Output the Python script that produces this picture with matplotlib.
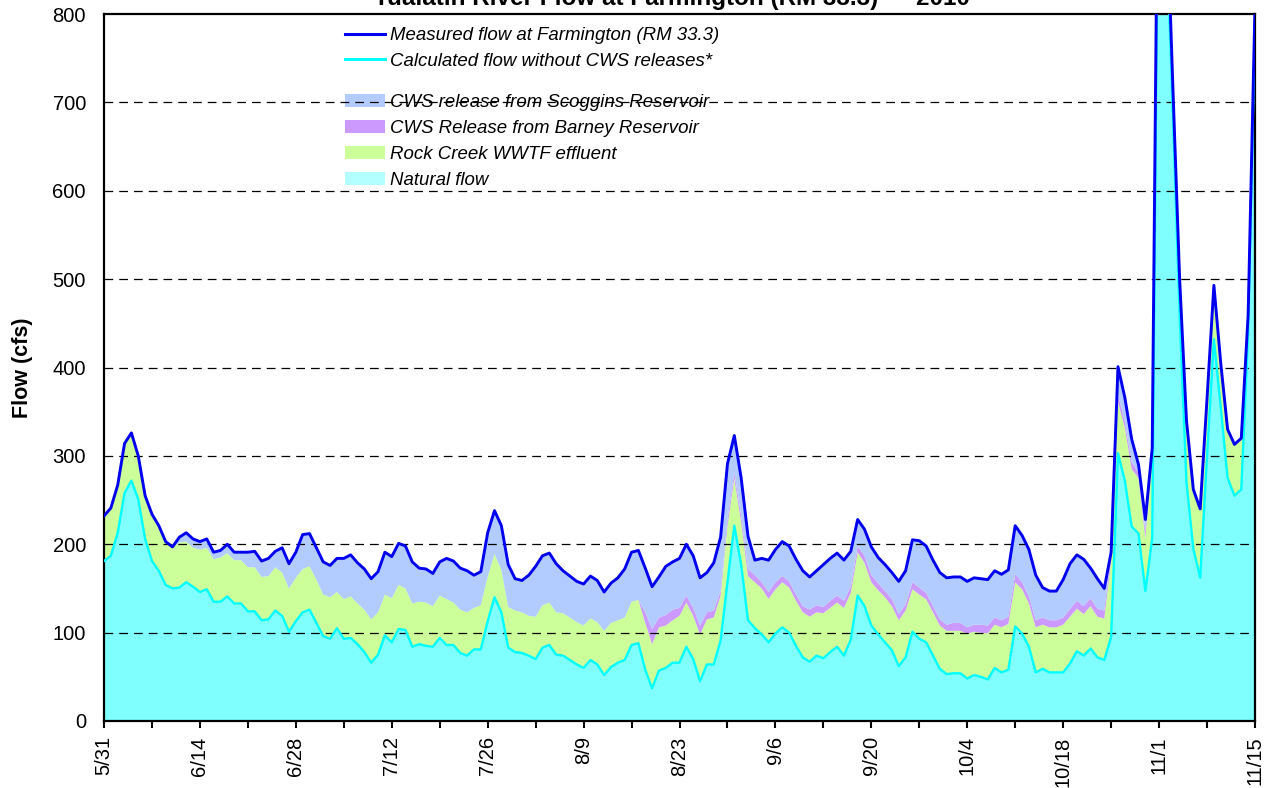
import numpy as np
import pandas as pd
import matplotlib
matplotlib.use('Agg')
import matplotlib.pyplot as plt
import matplotlib.dates as mdates
from matplotlib.lines import Line2D
from matplotlib.patches import Patch

plt.rcParams['font.family'] = ['Liberation Sans', 'DejaVu Sans']

# daily values 5/31 .. 11/15 (cfs)
startDate = '2010-05-31'
endDate = '2010-11-15'

measured = [
    232, 241, 267, 314, 326, 300, 255, 234, 221, 203,
    197, 208, 213, 206, 203, 206, 191, 193, 200, 191,
    191, 191, 192, 181, 184, 192, 196, 178, 191, 211,
    212, 196, 180, 176, 184, 184, 188, 179, 172, 161,
    169, 191, 186, 201, 198, 180, 173, 172, 167, 180,
    184, 181, 173, 170, 165, 169, 213, 238, 221, 177,
    161, 159, 165, 175, 187, 190, 178, 170, 164, 158,
    155, 164, 159, 146, 156, 162, 172, 191, 193, 173,
    152, 163, 175, 180, 184, 200, 187, 162, 168, 179,
    208, 291, 323, 275, 209, 182, 184, 182, 194, 203,
    198, 183, 170, 163, 170, 177, 184, 190, 182, 192,
    228, 217, 197, 185, 177, 168, 158, 170, 205, 204,
    198, 182, 168, 162, 163, 163, 158, 162, 161, 160,
    170, 166, 171, 221, 210, 194, 165, 151, 147, 147,
    160, 178, 188, 183, 173, 161, 150, 191, 401, 366,
    319, 290, 228, 309, 1150, 950, 720, 500, 340, 262,
    240, 365, 493, 405, 330, 313, 320, 460, 810]

# calculated flow without CWS releases = natural flow
natural = [
    181, 187, 213, 258, 272, 251, 206, 181, 170, 154,
    150, 151, 157, 152, 146, 149, 135, 135, 141, 133,
    133, 124, 124, 114, 115, 125, 119, 101, 113, 123,
    126, 111, 96, 93, 105, 93, 94, 87, 78, 66,
    75, 97, 89, 104, 103, 84, 87, 85, 84, 94,
    86, 86, 77, 74, 81, 81, 113, 140, 123, 83,
    78, 77, 74, 70, 83, 86, 75, 74, 69, 64,
    60, 69, 64, 52, 61, 66, 69, 86, 88, 58,
    37, 57, 60, 66, 66, 84, 70, 45, 64, 64,
    91, 157, 221, 177, 114, 105, 98, 89, 99, 106,
    100, 85, 72, 67, 74, 71, 78, 84, 74, 92,
    142, 130, 108, 98, 89, 80, 62, 72, 101, 93,
    89, 74, 59, 53, 54, 54, 48, 52, 50, 47,
    60, 55, 58, 107, 99, 84, 55, 59, 55, 55,
    55, 65, 79, 74, 82, 72, 69, 95, 303, 272,
    220, 212, 147, 207, 1100, 910, 690, 460, 270, 195,
    162, 300, 432, 355, 275, 255, 262, 440, 790]

# top of the Rock Creek WWTF effluent band
topEffluent = [
    232, 241, 267, 314, 326, 300, 255, 234, 221, 203,
    197, 202, 203, 196, 194, 196, 183, 185, 190, 182,
    182, 174, 174, 163, 164, 174, 168, 150, 162, 172,
    175, 160, 143, 140, 146, 138, 141, 133, 126, 115,
    123, 143, 139, 154, 150, 133, 135, 134, 130, 142,
    138, 134, 126, 123, 128, 131, 163, 189, 171, 129,
    125, 123, 119, 118, 131, 134, 123, 122, 117, 112,
    108, 116, 112, 102, 111, 114, 117, 135, 137, 111,
    87, 106, 108, 114, 119, 134, 119, 98, 115, 117,
    142, 221, 274, 225, 164, 157, 150, 138, 149, 157,
    151, 136, 123, 118, 123, 122, 128, 134, 128, 145,
    191, 179, 157, 148, 140, 130, 114, 125, 149, 143,
    138, 123, 108, 102, 102, 102, 99, 101, 100, 99,
    109, 106, 110, 157, 149, 133, 106, 109, 106, 106,
    109, 118, 127, 121, 130, 118, 116, 181, 361, 332,
    285, 275, 207, 300, 1150, 950, 720, 500, 340, 262,
    240, 365, 493, 405, 330, 313, 320, 460, 810]

# top of the Barney Reservoir release band
topBarney = [
    232, 241, 267, 314, 326, 300, 255, 234, 221, 203,
    197, 202, 203, 196, 194, 196, 183, 185, 190, 182,
    182, 174, 174, 163, 164, 174, 168, 150, 162, 172,
    175, 160, 143, 140, 146, 138, 141, 133, 126, 115,
    123, 143, 139, 154, 150, 133, 135, 134, 130, 142,
    138, 134, 126, 123, 128, 131, 163, 189, 171, 129,
    125, 123, 119, 118, 131, 134, 123, 122, 117, 112,
    108, 116, 112, 102, 111, 114, 117, 135, 137, 123,
    104, 117, 120, 126, 128, 142, 128, 108, 123, 125,
    147, 228, 281, 232, 172, 165, 157, 146, 157, 164,
    158, 143, 130, 126, 131, 129, 136, 142, 136, 152,
    198, 187, 165, 156, 147, 138, 121, 132, 157, 151,
    145, 130, 115, 109, 111, 111, 106, 109, 109, 108,
    117, 114, 118, 166, 157, 141, 114, 117, 114, 114,
    117, 127, 136, 130, 139, 127, 125, 188, 369, 339,
    293, 281, 215, 305, 1150, 950, 720, 500, 340, 262,
    240, 365, 493, 405, 330, 313, 320, 460, 810]

lineLabels = ['Measured flow at Farmington (RM 33.3)',
              'Calculated flow without CWS releases*']
areaLabels = ['CWS release from Scoggins Reservoir',
              'CWS Release from Barney Reservoir',
              'Rock Creek WWTF effluent',
              'Natural flow']
yTicks = [0, 100, 200, 300, 400, 500, 600, 700, 800]
title = 'Tualatin River Flow at Farmington (RM 33.3) \u2014 2010'

cNatural = '#80FFFF'
cEffluent = '#CCFF99'
cBarney = '#CC99FF'
cScoggins = '#B3CCFF'
cMeasured = '#0000EE'
cCalc = '#00FFFF'

dates = pd.date_range(startDate, endDate, freq='D')
x = mdates.date2num(dates)

fig = plt.figure(figsize=(12.7, 7.88), dpi=100)
ax = fig.add_axes([104 / 1270, 67 / 788, 1151 / 1270, 707 / 788])

ax.fill_between(x, 0, natural, color=cNatural, lw=0, zorder=1)
ax.fill_between(x, natural, topEffluent, color=cEffluent, lw=0, zorder=1)
ax.fill_between(x, topEffluent, topBarney, color=cBarney, lw=0, zorder=1)
ax.fill_between(x, topBarney, measured, color=cScoggins, lw=0, zorder=1)
ax.plot(x, natural, color=cCalc, lw=1.7, zorder=3)
ax.plot(x, measured, color=cMeasured, lw=2.1, zorder=4)

ax.set_xlim(x[0], x[-1])
ax.set_ylim(0, 800)
ax.set_yticks(yTicks)
for yv in yTicks[1:-1]:
    ax.axhline(yv, color='black', lw=0.9, dashes=(7, 4.8), zorder=2.5)

# ticks every week, labels every other week
weekTicks = x[::7]
weekLabels = []
for i, d in enumerate(dates[::7]):
    if i % 2 == 0:
        weekLabels.append('{}/{}'.format(d.month, d.day))
    else:
        weekLabels.append('')
ax.set_xticks(weekTicks)
ax.set_xticklabels(weekLabels, rotation=90, fontsize=14.5)
ax.tick_params(axis='x', direction='out', length=5, width=1.5, pad=6)
ax.tick_params(axis='y', length=0, pad=13, labelsize=14.5)
for s in ax.spines.values():
    s.set_linewidth(1.6)
ax.set_ylabel('Flow (cfs)', fontsize=15.5, fontweight='bold', labelpad=14)

fig.text(672 / 1270, 1 - 5 / 788, title, ha='center', va='baseline',
         fontsize=17.5, fontweight='bold')

legendFont = {'style': 'italic', 'size': 13.4}
lineHandles = [Line2D([], [], color=cMeasured, lw=2.2),
               Line2D([], [], color=cCalc, lw=2.2)]
leg1 = ax.legend(lineHandles, lineLabels, loc='upper left',
                 bbox_to_anchor=(345 / 1270, 1 - 27 / 788), bbox_transform=fig.transFigure,
                 frameon=False, borderpad=0, borderaxespad=0, handlelength=2.15,
                 handletextpad=0.27, labelspacing=0.48, prop=legendFont)
leg1.set_zorder(2)
ax.add_artist(leg1)

areaHandles = [Patch(facecolor=cScoggins, lw=0),
               Patch(facecolor=cBarney, lw=0),
               Patch(facecolor=cEffluent, lw=0),
               Patch(facecolor='#B3FFFF', lw=0)]
leg2 = ax.legend(areaHandles, areaLabels, loc='upper left',
                 bbox_to_anchor=(345 / 1270, 1 - 94 / 788), bbox_transform=fig.transFigure,
                 frameon=False, borderpad=0, borderaxespad=0, handlelength=2.15,
                 handletextpad=0.27, labelspacing=0.48, prop=legendFont)
leg2.set_zorder(2)

fig.savefig('out.png', dpi=100)
